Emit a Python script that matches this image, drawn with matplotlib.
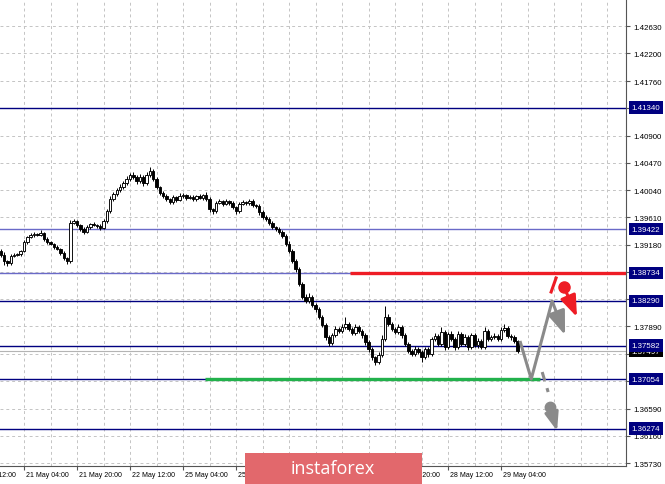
import numpy as np
import matplotlib.pyplot as plt
from matplotlib.patches import Rectangle
from matplotlib.transforms import blended_transform_factory

# hourly closes, first bar is index -7 (bars left of the "21 May 04:00" tick)
first_bar = -7
first_open = 1.3908
closes = [
    1.3902, 1.3892, 1.3889, 1.3900, 1.3902, 1.3903, 1.3908, 1.3922, 1.3930, 1.3933,
    1.3935, 1.3933, 1.3936, 1.3927, 1.3922, 1.3919, 1.3914, 1.3911, 1.3905, 1.3897,
    1.3892, 1.3952, 1.3955, 1.3949, 1.3943, 1.3938, 1.3946, 1.3950, 1.3949, 1.3947,
    1.3944, 1.3955, 1.3971, 1.3990, 1.3998, 1.4004, 1.4009, 1.4015, 1.4022, 1.4028,
    1.4025, 1.4018, 1.4025, 1.4015, 1.4028, 1.4034, 1.4022, 1.4009, 1.3999, 1.3995,
    1.3990, 1.3985, 1.3993, 1.3988, 1.3995, 1.3996, 1.3992, 1.3993, 1.3990, 1.3995,
    1.3992, 1.3996, 1.3990, 1.3974, 1.3971, 1.3984, 1.3987, 1.3982, 1.3987, 1.3984,
    1.3977, 1.3971, 1.3982, 1.3985, 1.3984, 1.3987, 1.3980, 1.3979, 1.3969, 1.3962,
    1.3958, 1.3952, 1.3946, 1.3943, 1.3938, 1.3932, 1.3919, 1.3908, 1.3892, 1.3879,
    1.3856, 1.3835, 1.3829, 1.3835, 1.3823, 1.3816, 1.3804, 1.3791, 1.3772, 1.3763,
    1.3775, 1.3785, 1.3782, 1.3788, 1.3793, 1.3785, 1.3778, 1.3788, 1.3782, 1.3775,
    1.3764, 1.3753, 1.3740, 1.3733, 1.3744, 1.3769, 1.3804, 1.3793, 1.3785, 1.3780,
    1.3788, 1.3775, 1.3761, 1.3750, 1.3745, 1.3753, 1.3748, 1.3740, 1.3753, 1.3745,
    1.3769, 1.3774, 1.3761, 1.3780, 1.3756, 1.3777, 1.3769, 1.3756, 1.3777, 1.3761,
    1.3772, 1.3756, 1.3775, 1.3759, 1.3766, 1.3756, 1.3782, 1.3769, 1.3772, 1.3774,
    1.3769, 1.3783, 1.3786, 1.3774, 1.3772, 1.3766, 1.3750,
]
# wick lengths above / below the body, in pips
wick_up = [
    3, 4, 2, 3, 2, 2, 2, 3, 2, 4,
    3, 2, 5, 2, 3, 2, 2, 3, 2, 2,
    2, 5, 3, 2, 2, 3, 3, 2, 3, 2,
    3, 4, 3, 4, 3, 3, 4, 3, 4, 3,
    4, 3, 5, 3, 4, 6, 3, 3, 2, 3,
    3, 2, 3, 2, 4, 3, 2, 3, 3, 2,
    3, 2, 5, 3, 2, 3, 3, 2, 3, 2,
    3, 2, 3, 4, 2, 3, 3, 2, 3, 3,
    2, 3, 3, 2, 3, 3, 3, 4, 3, 3,
    4, 3, 5, 6, 4, 3, 3, 3, 3, 3,
    4, 5, 3, 4, 11, 3, 3, 4, 3, 3,
    3, 3, 3, 2, 4, 6, 17, 4, 3, 3,
    5, 3, 3, 3, 3, 4, 3, 3, 3, 3,
    3, 4, 3, 8, 3, 3, 4, 3, 4, 3,
    4, 3, 4, 3, 4, 3, 6, 3, 3, 4,
    3, 4, 6, 3, 3, 3, 2,
]
wick_dn = [
    3, 6, 5, 3, 2, 2, 3, 2, 3, 2,
    3, 2, 2, 3, 3, 2, 3, 2, 3, 3,
    4, 3, 2, 3, 4, 3, 2, 3, 2, 3,
    3, 2, 3, 3, 4, 3, 3, 4, 3, 3,
    3, 4, 3, 4, 3, 3, 3, 4, 3, 3,
    4, 3, 3, 3, 2, 3, 3, 2, 3, 3,
    2, 3, 3, 4, 5, 3, 2, 3, 2, 3,
    3, 4, 3, 2, 3, 3, 3, 3, 4, 3,
    3, 3, 3, 3, 3, 3, 4, 3, 3, 4,
    4, 3, 4, 3, 4, 4, 3, 4, 4, 6,
    3, 3, 4, 3, 3, 4, 3, 3, 3, 4,
    4, 4, 4, 6, 3, 3, 3, 4, 3, 3,
    3, 4, 3, 4, 3, 3, 3, 8, 3, 4,
    3, 3, 4, 3, 4, 3, 3, 4, 3, 4,
    3, 4, 3, 3, 4, 3, 3, 3, 3, 3,
    3, 3, 3, 3, 4, 3, 4,
]

x_ticks = [-16, 0, 16, 32, 48, 64, 80, 96, 112, 128, 144]
x_labels = ["20 May 12:00", "21 May 04:00", "21 May 20:00", "22 May 12:00",
            "25 May 04:00", "25 May 20:00", "26 May 12:00", "27 May 04:00",
            "27 May 20:00", "28 May 12:00", "29 May 04:00"]
price_ticks = [1.35730, 1.36160, 1.36590, 1.37020, 1.37450, 1.37890, 1.38320,
               1.38750, 1.39180, 1.39610, 1.40040, 1.40470, 1.40900, 1.41330,
               1.41760, 1.42200, 1.42630]
# ticks whose labels sit under a level box in the reference
hidden_ticks = [1.37020, 1.37450, 1.38320, 1.38750, 1.41330]

levels = [1.41340, 1.39422, 1.38734, 1.38290, 1.37582, 1.37054, 1.36274]
level_colors = ["#000080", "#6A6AC8", "#6A6AC8", "#000080", "#000080", "#000080", "#000080"]
bid = 1.37497

resist_level, resist_from = 1.38734, 98.4
support_level, support_from, support_to = 1.37054, 54.6, 155.8

# forecast sketch (bar index, price)
zigzag_x = [149.7, 153.1, 159.4]
zigzag_y = [1.37657, 1.37057, 1.38288]
zigzag_tip = (163.3, 1.37752)
down_dash_x = [156.4, 158.2]
down_dash_y = [1.37167, 1.36851]
down_dot = (158.8, 1.36615)
down_tip = (160.9, 1.36236)
red_slash_x = [159.1, 160.6]
red_slash_y = [1.38431, 1.38652]
red_dot = (163.0, 1.38509)
red_tip = (166.9, 1.38036)

GRAY = "#8A8A8A"
RED = "#EE1C25"
GREEN = "#22B14C"
XMIN, XMAX = -7.25, 181.7
YMIN, YMAX = 1.35683, 1.43057

plt.rcParams['font.family'] = ['Liberation Sans', 'DejaVu Sans']

fig = plt.figure(figsize=(6.65, 4.85), dpi=100)
ax = fig.add_axes([0, 18 / 485, 626 / 665, 467 / 485])

# grid
for p in price_ticks:
    ax.axhline(p, color="#C4C4C4", lw=0.7, ls=(0, (3, 3)), zorder=1)
for v in np.arange(-8, 184, 8):
    ax.axvline(v, color="#C4C4C4", lw=0.7, ls=(0, (3, 3)), zorder=1)

# levels
for lv, col in zip(levels, level_colors):
    ax.axhline(lv, color=col, lw=1.0, zorder=2)
ax.axhline(bid, color="#B4B4B4", lw=0.8, zorder=2)
ax.hlines(resist_level, resist_from, XMAX, color=RED, lw=2.4, zorder=3)
ax.hlines(support_level, support_from, support_to, color=GREEN, lw=2.4, zorder=3)

# candles
closes = np.array(closes)
opens = np.concatenate([[first_open], closes[:-1]])
idx = np.arange(first_bar, first_bar + len(closes))
highs = np.maximum(opens, closes) + np.array(wick_up) * 1e-4
lows = np.minimum(opens, closes) - np.array(wick_dn) * 1e-4
bull = closes >= opens
ax.vlines(idx, lows, highs, color="black", lw=0.7, zorder=4)
ax.bar(idx, closes - opens, bottom=opens, width=0.75,
       color=np.where(bull, "white", "black"), edgecolor="black",
       linewidth=0.65, zorder=5)

# forecast arrows
ax.plot(zigzag_x, zigzag_y, color=GRAY, lw=2.2, zorder=7, solid_capstyle="butt")
arrow = dict(arrowstyle="-|>,head_length=0.8,head_width=0.3", lw=2.2,
             shrinkA=0, shrinkB=0)
ax.annotate("", xy=zigzag_tip, xytext=(zigzag_x[-1], zigzag_y[-1]),
            arrowprops=dict(color=GRAY, mutation_scale=18, **arrow), zorder=7)
ax.plot(down_dash_x, down_dash_y, color=GRAY, lw=2.2, ls=(0, (3, 2.5)), zorder=7)
ax.annotate("", xy=down_tip, xytext=down_dot,
            arrowprops=dict(color=GRAY, mutation_scale=14, **arrow), zorder=7)
ax.plot(*down_dot, "o", color=GRAY, ms=7.5, zorder=8)
ax.plot(red_slash_x, red_slash_y, color=RED, lw=2.2, zorder=7)
ax.annotate("", xy=red_tip, xytext=red_dot,
            arrowprops=dict(color=RED, mutation_scale=16, **arrow), zorder=7)
ax.plot(*red_dot, "o", color=RED, ms=8, zorder=8)

# axes styling
for s in ["top", "left"]:
    ax.spines[s].set_visible(False)
for s in ["right", "bottom"]:
    ax.spines[s].set_color("#555555")
    ax.spines[s].set_linewidth(0.8)
ax.yaxis.tick_right()
ax.set_yticks(price_ticks, labels=["" if p in hidden_ticks else f"{p:.5f}" for p in price_ticks])
ax.tick_params(axis="y", labelsize=5.7, length=3, pad=2, color="#555555")
ax.set_xticks(x_ticks, labels=[""] * len(x_ticks))
ax.tick_params(axis="x", length=3, color="#555555")
# limits after the ticks, set_xticks would widen them
ax.set_xlim(XMIN, XMAX)
ax.set_ylim(YMIN, YMAX)

xtrans = blended_transform_factory(ax.transData, ax.transAxes)
for t, lab in zip(x_ticks, x_labels):
    ax.annotate(lab, xy=(t, 0), xycoords=xtrans, xytext=(1.5, -5.8),
                textcoords="offset points", ha="left", va="center",
                fontsize=5, annotation_clip=False)

# price labels on the right axis
ytrans = blended_transform_factory(ax.transAxes, ax.transData)
ax.annotate(f"{bid:.5f}", xy=(1, bid), xycoords=ytrans, xytext=(4, 0),
            textcoords="offset points", ha="left", va="center", fontsize=5.7,
            color="white", annotation_clip=False, zorder=8,
            bbox=dict(boxstyle="square,pad=0.3", fc="black", ec="none"))
for lv in levels:
    ax.annotate(f"{lv:.5f}", xy=(1, lv), xycoords=ytrans, xytext=(4, 0),
                textcoords="offset points", ha="left", va="center", fontsize=5.7,
                color="white", annotation_clip=False, zorder=9,
                bbox=dict(boxstyle="square,pad=0.35", fc="#000080", ec="none"))

# watermark
fig.patches.append(Rectangle((245 / 665, 0), 177 / 665, 31 / 485,
                             transform=fig.transFigure, fc="#E2686C", ec="none", zorder=10))
fig.text(333 / 665, 16 / 485, "instaforex", color="white", fontsize=13,
         ha="center", va="center", zorder=11, family=["Open Sans", "DejaVu Sans"])

fig.savefig("out.png", dpi=100)
